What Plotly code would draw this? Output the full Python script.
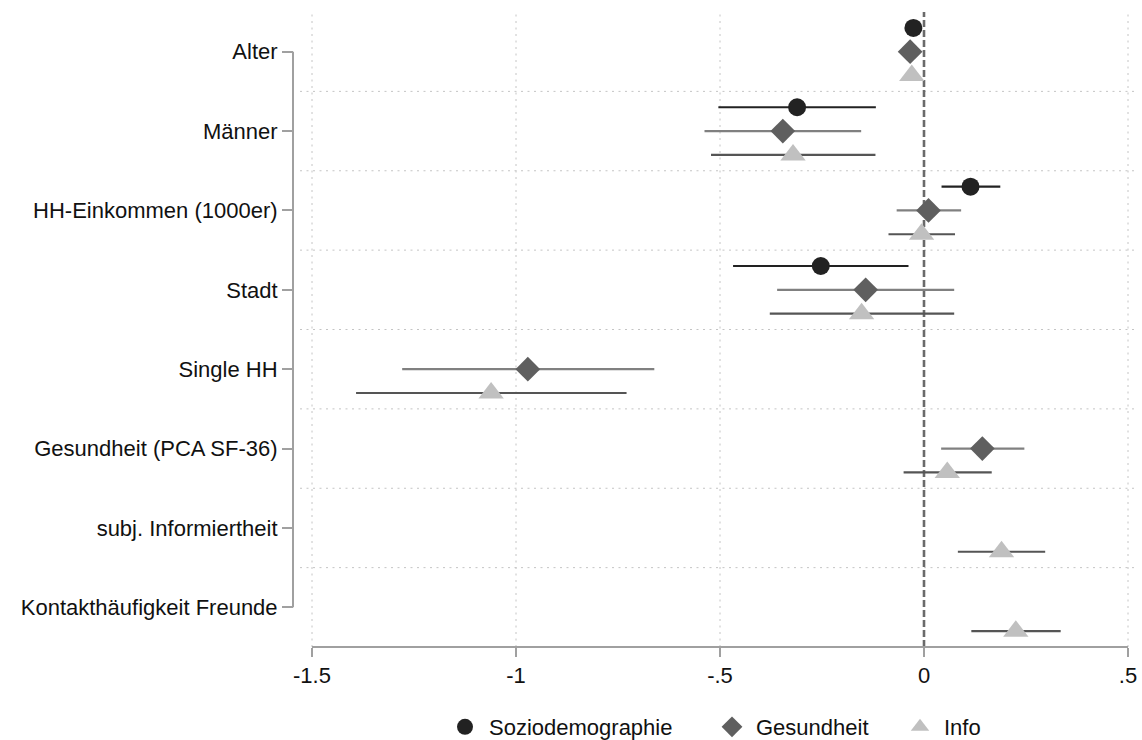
import plotly.graph_objects as go

# Regressors (top to bottom)
categories = [
    "Alter",
    "Männer",
    "HH-Einkommen (1000er)",
    "Stadt",
    "Single HH",
    "Gesundheit (PCA SF-36)",
    "subj. Informiertheit",
    "Kontakthäufigkeit Freunde",
]

# Model 1: Soziodemographie
sozio_est = [-0.026, -0.311, 0.114, -0.253, None, None, None, None]
sozio_lo = [-0.034, -0.504, 0.043, -0.468, None, None, None, None]
sozio_hi = [-0.018, -0.118, 0.187, -0.038, None, None, None, None]

# Model 2: Gesundheit
gesund_est = [-0.034, -0.346, 0.011, -0.143, -0.971, 0.143, None, None]
gesund_lo = [-0.042, -0.538, -0.067, -0.360, -1.279, 0.042, None, None]
gesund_hi = [-0.026, -0.154, 0.091, 0.074, -0.661, 0.246, None, None]

# Model 3: Info
info_est = [-0.030, -0.321, -0.006, -0.153, -1.061, 0.057, 0.190, 0.225]
info_lo = [-0.038, -0.522, -0.087, -0.378, -1.392, -0.050, 0.083, 0.116]
info_hi = [-0.022, -0.119, 0.076, 0.074, -0.729, 0.166, 0.297, 0.335]

x_tickvals = [-1.5, -1.0, -0.5, 0.0, 0.5]
x_ticktext = ["-1.5", "-1", "-.5", "0", ".5"]
x_gridvals = [-1.5, -1.0, -0.5, 0.5]

FONT = "Liberation Sans, Arial, Helvetica, sans-serif"
FONT_SIZE = 22
AXIS_GRAY = "#a0a0a0"
GRID_GRAY = "#c4c4c4"
GRID_DASH = "2px,4.5px"

# Plot-area geometry (pixels)
W, H = 1142, 740
ML, MR, MT, MB = 280, 5, 12, 93
paper_w = W - ML - MR
paper_h = H - MT - MB
x_dom0 = 20 / paper_w
yaxis_pos = 13 / paper_w


def px_to_paper_x(px):
    return (px - ML) / paper_w


def px_to_paper_y(py):
    return (H - MB - py) / paper_h


# name, estimates, bounds, vertical offset, marker, CI colour, legend id, legend left edge (px)
models = [
    ("Soziodemographie", sozio_est, sozio_lo, sozio_hi, -0.3,
     dict(symbol="circle", size=18, color="#222222"), "#222222", "legend", 441),
    ("Gesundheit", gesund_est, gesund_lo, gesund_hi, 0.0,
     dict(symbol="diamond", size=19, color="#5f5f5f"), "#808080", "legend2", 708),
    ("Info", info_est, info_lo, info_hi, 0.3,
     dict(symbol="triangle-up", size=22, color="#c0c0c0"), "#555555", "legend3", 896),
]

fig = go.Figure()
legend_layouts = {}
for name, est, lo, hi, offset, marker, ci_color, leg, left_px in models:
    xs, ys, plus, minus = [], [], [], []
    for i, (e, l, h) in enumerate(zip(est, lo, hi)):
        if e is None:
            continue
        xs.append(e)
        ys.append(i + 1 + offset)
        plus.append(h - e)
        minus.append(e - l)
    fig.add_trace(go.Scatter(
        x=xs, y=ys, mode="markers", name=name, legend=leg,
        marker=dict(line=dict(width=0), **marker),
        error_x=dict(type="data", symmetric=False, array=plus, arrayminus=minus,
                     color=ci_color, thickness=2.2, width=0),
        cliponaxis=False,
    ))
    legend_layouts[leg] = dict(
        orientation="h", x=px_to_paper_x(left_px), xanchor="left",
        y=px_to_paper_y(727), yanchor="middle", itemwidth=38,
        font=dict(size=FONT_SIZE), itemsizing="trace", bgcolor="rgba(0,0,0,0)",
    )

shapes = []
# dotted vertical grid lines (zero gets its own dashed line)
for v in x_gridvals:
    shapes.append(dict(type="line", xref="x", yref="paper", x0=v, x1=v, y0=0, y1=1,
                       layer="between", line=dict(color=GRID_GRAY, width=1, dash=GRID_DASH)))
# dotted separators between regressors
for k in range(1, len(categories)):
    shapes.append(dict(type="line", xref="paper", yref="y", x0=x_dom0, x1=1,
                       y0=k + 0.5, y1=k + 0.5, layer="between",
                       line=dict(color=GRID_GRAY, width=1, dash=GRID_DASH)))
# dashed reference line at zero
shapes.append(dict(type="line", xref="x", yref="paper", x0=0, x1=0, y0=0, y1=1,
                   layer="between", line=dict(color="#6a6a6a", width=2.6, dash="7px,3px")))
# x axis line over the scale range
shapes.append(dict(type="line", xref="x", yref="paper", x0=-1.5, x1=0.5, y0=0, y1=0,
                   line=dict(color=AXIS_GRAY, width=2)))
# y axis line spanning the first to last regressor
shapes.append(dict(type="line", xref="paper", yref="y", x0=yaxis_pos, x1=yaxis_pos,
                   y0=1, y1=len(categories), line=dict(color=AXIS_GRAY, width=2)))

fig.update_layout(
    width=W, height=H,
    margin=dict(l=ML, r=MR, t=MT, b=MB, autoexpand=False),
    paper_bgcolor="white", plot_bgcolor="white",
    font=dict(family=FONT, size=FONT_SIZE, color="#111111"),
    shapes=shapes,
    showlegend=True,
    xaxis=dict(
        domain=[x_dom0, 1],
        range=[-1.5 - 12 / 408, 0.5 + 9 / 408],
        tickvals=x_tickvals, ticktext=x_ticktext,
        ticks="outside", ticklen=9, tickwidth=1.5, tickcolor=AXIS_GRAY,
        showgrid=False, zeroline=False, showline=False,
        tickfont=dict(size=FONT_SIZE),
    ),
    yaxis=dict(
        range=[len(categories) + 0.5, 0.5],
        tickvals=list(range(1, len(categories) + 1)), ticktext=categories,
        anchor="free", position=yaxis_pos,
        ticks="outside", ticklen=11, tickwidth=1.5, tickcolor=AXIS_GRAY,
        ticklabelstandoff=0,
        showgrid=False, zeroline=False, showline=False,
        tickfont=dict(size=FONT_SIZE),
    ),
    **legend_layouts,
)

fig.write_html("out.html")
